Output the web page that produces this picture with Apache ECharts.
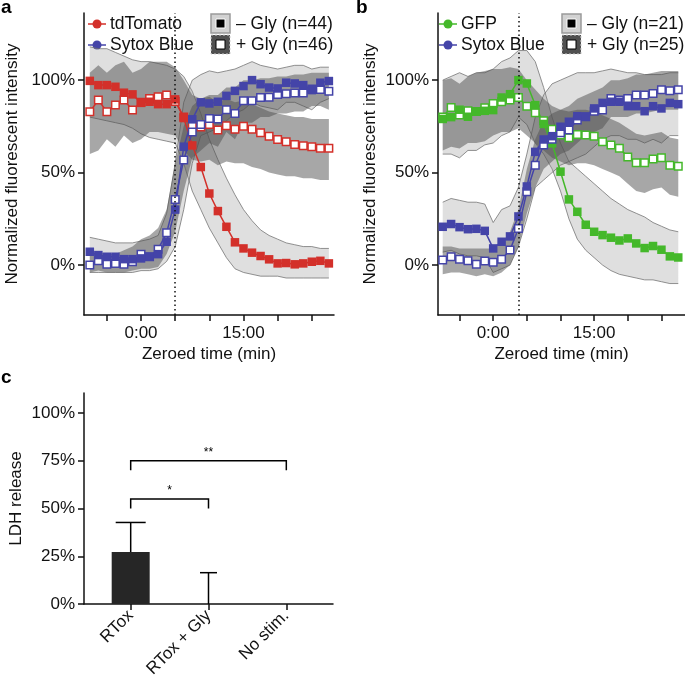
<!DOCTYPE html>
<html>
<head>
<meta charset="utf-8">
<script src="https://cdn.jsdelivr.net/npm/echarts@6.0.0/dist/echarts.min.js"></script>
<style>html,body{margin:0;padding:0;background:#fff}#chart{width:685px;height:694px}</style>
</head>
<body>
<div id="chart"></div>
<script>
// ---------------- DATA ----------------
const timeMin = [-7.5,-6.25,-5,-3.75,-2.5,-1.25,0,1.25,2.5,3.75,5,6.25,7.5,8.75,10,11.25,12.5,13.75,15,16.25,17.5,18.75,20,21.25,22.5,23.75,25,26.25,27.5];
const xTickMarks = [-5,0,5,10,15,20,25];
const xLabelValues = [0,15];
const xLabelTexts = ['0:00','15:00'];
const yTickValues = [0,50,100];
const stimTimeA = 5;
const stimTimeB = 3.75;

// Panel a
const aTdTomatoMinus = [99.6,97.3,97.3,96.4,93.2,92.3,87.7,88.3,87,87,89.6,79.5,64.7,53,38.7,29.2,20.7,12.3,9,6.7,4.9,3.1,0.9,1.1,0.4,0.9,1.8,2.3,0.9];
const aTdTomatoPlus  = [82.9,89.2,82.9,86.5,89.2,83.8,88,90.1,91,91.9,88.5,80,75.5,74.6,76,73,75.3,73.5,75.1,73.5,71.5,69.7,67.9,66.7,65.2,64.5,64,63.1,63.1];
const aSytoxMinus    = [7.2,5.4,4.5,4.5,3.2,3.2,3.6,4.5,5.9,12.6,30,64,78.8,88,87.4,88.3,91.5,94.2,96.8,100,97.8,96,95.5,98.6,98.2,97.3,94.6,98.6,99.5];
const aSytoxPlus     = [0,2.3,0.5,0.9,0.5,1.8,5.9,4.5,8.5,17.5,35.5,56.8,72,76,79.3,79,84,82,88.8,88.8,90.6,90.8,92.2,92.6,93,93.1,95.2,95,94];
const aTdTomatoMinusLo = [80,79,78,77,76,74,71,69,68,67,66,55,40,30,20,12,4,-2,-4,-5,-6,-6,-6,-7,-7,-7,-7,-7,-7];
const aTdTomatoMinusHi = [118,117,117,115,113,111,110,110,109,108,106,102,94,82,68,57,47,38,30,24,19,16,14,12,11,10,10,9,9];
const aTdTomatoPlusLo  = [60,62,68,64,70,66,68,72,72,71,70,62,57,56,57,54,56,55,55,53,52,50,49,48,48,47,47,46,46];
const aTdTomatoPlusHi  = [104,108,104,108,110,104,106,110,110,110,107,100,92,90,91,88,90,88,89,87,85,83,82,81,80,80,79,79,79];
const aSytoxMinusLo = [-4,-4,-4,-4,-4,-4,-3,-3,-2,2,10,30,55,70,72,74,78,82,84,88,86,85,84,88,88,86,84,88,90];
const aSytoxMinusHi = [15,14,13,12,12,12,13,14,16,28,55,88,100,103,105,104,105,106,108,110,108,107,106,107,108,108,106,107,107];
const aSytoxPlusLo  = [-4,-3,-4,-4,-4,-3,-2,-2,-1,6,18,40,58,62,66,64,72,68,77,77,80,80,82,82,83,83,86,86,84];
const aSytoxPlusHi  = [6,7,6,6,8,10,14,16,20,30,55,75,86,90,92,92,96,96,100,100,101,101,102,102,103,103,104,104,104];

// Panel b
const bGfpMinus   = [79,80,84,80.2,82.9,83.4,83.8,90.6,92.4,100,98.2,86.5,76.3,65.8,50.5,35.5,28.8,21.8,18,16.2,14.8,13.3,14.4,11.7,9.2,10.3,8.3,4.7,4.1];
const bGfpPlus    = [80,85.2,81.1,83.4,83,85,87.4,88.3,89.2,90.6,85.9,82.3,78,73.5,70.3,68.8,70.6,70.3,69.7,66.7,64.9,63.1,58.5,55.3,55.3,57.3,58,54,53.5];
const bSytoxMinus = [20.7,22.2,20.5,19.4,19.6,18.5,9,12.6,15.5,26.3,42.5,61.2,67.9,69.7,74.8,77.5,80.5,80.2,84.7,87.7,88.3,88.3,85.9,85.9,83.2,85.9,84.7,87.7,87];
const bSytoxPlus  = [2.7,4.5,3.1,2.3,0.4,2.2,1.5,3.1,8.1,19.8,39.6,54,64.9,68,71.5,73,78.4,80.2,83.2,83.8,90.1,89.2,90.1,91.9,91.9,92.8,94.8,94.2,94.8];
const bGfpMinusLo = [60,60,58,62,62,65,66,70,72,80,76,66,60,52,40,25,14,8,4,0,-3,-5,-6,-7,-8,-8,-9,-10,-10];
const bGfpMinusHi = [100,102,104,102,104,104,106,110,112,116,116,110,96,80,66,56,52,48,44,40,36,33,30,28,26,23,21,19,18];
const bGfpPlusLo  = [62,64,63,66,66,67,70,72,72,74,70,66,62,58,56,54,55,55,54,52,50,48,44,40,39,41,42,38,37];
const bGfpPlusHi  = [100,101,98,102,104,105,106,106,107,106,100,95,90,86,84,83,84,84,83,81,79,77,74,71,70,71,72,69,68];
const bSytoxMinusLo = [7,8,6,5,5,4,-4,-2,0,10,25,42,46,50,54,56,58,60,64,68,70,70,68,68,66,68,66,70,70];
const bSytoxMinusHi = [34,36,35,34,34,33,23,30,32,42,60,80,92,98,100,102,104,104,104,105,106,105,104,104,103,103,103,104,104];
const bSytoxPlusLo  = [-5,-4,-4,-5,-6,-5,-6,-4,0,10,28,42,52,56,60,62,66,70,72,74,80,80,80,82,82,83,84,84,84];
const bSytoxPlusHi  = [10,10,9,9,9,9,9,12,18,30,52,68,78,82,84,86,90,92,94,96,100,100,101,103,103,104,105,105,105];

// Panel c
const ldhCats = ['RTox','RTox + Gly','No stim.'];
const ldhMean = [27.2, 0, 0];
const ldhLow  = [12, 0, 0];
const ldhHigh = [42.7, 16.4, 0];
const ldhTicks = [0,25,50,75,100];
const sigPairs = [[1,3],[1,2]];
const sigLevels = [75, 55];
const sigTexts = ['**','*'];

// ---------------- STYLE ----------------
const FONT = '"Liberation Sans", Arial, Helvetica, sans-serif';
const RED = '#d3302a', BLUE = '#4444a8', GREEN = '#44b82a';
const LIGHT_FILL = 'rgba(150,150,150,0.30)', LIGHT_LINE = 'rgba(110,110,110,0.75)';
const DARK_FILL = 'rgba(80,80,80,0.50)';
const INK = '#111';

function pts(arr){ return timeMin.map((t,i)=>[t, arr[i]]); }

function band(g, lo, hi, fill, stroke){
  return {
    type:'custom', xAxisIndex:g, yAxisIndex:g, silent:true,
    data:[[timeMin[0], lo[0]]],
    renderItem:(params, api)=>{
      const up = timeMin.map((t,i)=>api.coord([t, hi[i]]));
      const dn = timeMin.map((t,i)=>api.coord([t, lo[i]]));
      const ch = [{type:'polygon', shape:{points: up.concat(dn.slice().reverse())}, style:{fill: fill}}];
      if (stroke){
        ch.push({type:'polyline', shape:{points:up}, style:{stroke:stroke, fill:'none', lineWidth:1}});
        ch.push({type:'polyline', shape:{points:dn}, style:{stroke:stroke, fill:'none', lineWidth:1}});
      }
      return {type:'group', children:ch};
    }
  };
}
function lineS(g, arr, color, open, mark){
  const s = {
    type:'line', xAxisIndex:g, yAxisIndex:g, data:pts(arr),
    symbol:'rect', symbolSize: open ? 7.5 : 8.5, showAllSymbol:true,
    lineStyle:{color:color, width:1.5},
    itemStyle: open ? {color:'#fff', borderColor:color, borderWidth:1.5} : {color:color, borderWidth:0}
  };
  if (mark !== undefined){
    s.markLine = {silent:true, symbol:'none', label:{show:false},
      lineStyle:{type:[1.5,3], color:'#111', width:1.5}, data:[{xAxis: mark}]};
  }
  return s;
}

const txt = {fontSize:17, color:INK, fontFamily:FONT};
function timeAxis(g, min, max){
  return {type:'value', gridIndex:g, min:min, max:max,
    name:'Zeroed time (min)', nameLocation:'middle', nameGap:31, nameTextStyle:txt,
    axisLine:{onZero:false, lineStyle:{color:INK, width:1.5}},
    axisTick:{customValues:xTickMarks, length:6, lineStyle:{color:INK, width:1.5}},
    axisLabel:Object.assign({customValues:xLabelValues, margin:10,
      formatter:v=>xLabelTexts[xLabelValues.indexOf(v)]}, txt),
    splitLine:{show:false}};
}
function pctAxis(g, min, max, ticks, name, gap){
  return {type:'value', gridIndex:g, min:min, max:max,
    name:name, nameLocation:'middle', nameGap:gap, nameTextStyle:txt,
    axisLine:{show:true, onZero:false, lineStyle:{color:INK, width:1.5}},
    axisTick:{show:true, customValues:ticks, length:6, lineStyle:{color:INK, width:1.5}},
    axisLabel:Object.assign({customValues:ticks, margin:9, formatter:v=>v+'%'}, txt),
    splitLine:{show:false}};
}

const LEG_FONT = '17.5px ' + FONT;
function legendBlock(x0, label1, color1, label2, color2, kx, n1, n2){
  const els = [];
  const rows = [[24, label1, color1],[45, label2, color2]];
  rows.forEach(r=>{
    els.push({type:'line', shape:{x1:x0, y1:r[0], x2:x0+18, y2:r[0]}, style:{stroke:r[2], lineWidth:1.5}});
    els.push({type:'circle', shape:{cx:x0+9, cy:r[0], r:4.5}, style:{fill:r[2]}});
    els.push({type:'text', style:{x:x0+22, y:r[0], text:r[1], font:LEG_FONT, fill:INK, verticalAlign:'middle'}});
  });
  els.push({type:'rect', shape:{x:kx, y:14, width:19, height:19}, style:{fill:'#d2d2d2', stroke:'#9a9a9a', lineWidth:1.5}});
  els.push({type:'rect', shape:{x:kx+5, y:19, width:9, height:9}, style:{fill:'#000', stroke:'#fff', lineWidth:1}});
  els.push({type:'rect', shape:{x:kx, y:35, width:19, height:19}, style:{fill:'#505050', stroke:'#cfcfcf', lineWidth:1, lineDash:[2,2]}});
  els.push({type:'rect', shape:{x:kx+5, y:40, width:9, height:9}, style:{fill:'#fff', stroke:'#000', lineWidth:1}});
  els.push({type:'text', style:{x:kx+25, y:24, text:'\u2013 Gly (n='+n1+')', font:LEG_FONT, fill:INK, verticalAlign:'middle'}});
  els.push({type:'text', style:{x:kx+25, y:45, text:'+ Gly (n='+n2+')', font:LEG_FONT, fill:INK, verticalAlign:'middle'}});
  return els;
}

const graphicEls = [
  {type:'text', style:{x:1, y:8, text:'a', font:'bold 19px '+FONT, fill:'#000', verticalAlign:'middle'}},
  {type:'text', style:{x:356, y:8, text:'b', font:'bold 19px '+FONT, fill:'#000', verticalAlign:'middle'}},
  {type:'text', style:{x:1, y:378, text:'c', font:'bold 19px '+FONT, fill:'#000', verticalAlign:'middle'}}
].concat(legendBlock(88,'tdTomato',RED,'Sytox Blue',BLUE,211,44,46))
 .concat(legendBlock(439,'GFP',GREEN,'Sytox Blue',BLUE,562,21,25));

const capPx = [30, 17, 0];

const option = {
  animation:false,
  backgroundColor:'#fff',
  grid:[
    {left:84, top:13, width:250, height:302, outerBoundsMode:'none'},
    {left:438, top:13, width:247, height:302, outerBoundsMode:'none'},
    {left:84, top:393, width:249, height:211, outerBoundsMode:'none'}
  ],
  xAxis:[
    timeAxis(0, -8.35, 28.25),
    timeAxis(1, -8.2, 28.5),
    {type:'value', gridIndex:2, min:0.4, max:3.6,
      axisLine:{onZero:false, lineStyle:{color:INK, width:1.5}},
      axisTick:{customValues:[1,2,3], length:6, lineStyle:{color:INK, width:1.5}},
      axisLabel:Object.assign({customValues:[1,2,3], rotate:45, margin:9,
        formatter:v=>ldhCats[v-1]}, txt),
      splitLine:{show:false}}
  ],
  yAxis:[
    pctAxis(0, -27, 136.3, yTickValues, 'Normalized fluorescent intensity', 63),
    pctAxis(1, -27, 136.3, yTickValues, 'Normalized fluorescent intensity', 59),
    pctAxis(2, 0, 110.5, ldhTicks, 'LDH release', 59)
  ],
  graphic:{elements:graphicEls},
  series:[
    band(0, aTdTomatoMinusLo, aTdTomatoMinusHi, LIGHT_FILL, LIGHT_LINE),
    band(0, aSytoxMinusLo, aSytoxMinusHi, LIGHT_FILL, LIGHT_LINE),
    band(0, aTdTomatoPlusLo, aTdTomatoPlusHi, DARK_FILL, null),
    band(0, aSytoxPlusLo, aSytoxPlusHi, DARK_FILL, null),
    lineS(0, aTdTomatoPlus, RED, true, stimTimeA),
    lineS(0, aTdTomatoMinus, RED, false),
    lineS(0, aSytoxPlus, BLUE, true),
    lineS(0, aSytoxMinus, BLUE, false),

    band(1, bGfpMinusLo, bGfpMinusHi, LIGHT_FILL, LIGHT_LINE),
    band(1, bSytoxMinusLo, bSytoxMinusHi, LIGHT_FILL, LIGHT_LINE),
    band(1, bGfpPlusLo, bGfpPlusHi, DARK_FILL, null),
    band(1, bSytoxPlusLo, bSytoxPlusHi, DARK_FILL, null),
    lineS(1, bGfpPlus, GREEN, true, stimTimeB),
    lineS(1, bGfpMinus, GREEN, false),
    lineS(1, bSytoxPlus, BLUE, true),
    lineS(1, bSytoxMinus, BLUE, false),

    {type:'bar', xAxisIndex:2, yAxisIndex:2, barWidth:38,
      data: ldhCats.map((c,i)=>[i+1, ldhMean[i]]), itemStyle:{color:'#262626'}},
    {type:'custom', xAxisIndex:2, yAxisIndex:2, silent:true,
      data: ldhCats.map((c,i)=>[i+1, ldhLow[i], ldhHigh[i]]),
      encode:{x:0, y:[1,2]},
      renderItem:(params, api)=>{
        const x = api.value(0), lo = api.value(1), hi = api.value(2);
        if (hi <= lo) return null;
        const a = api.coord([x, lo]), b = api.coord([x, hi]);
        const w = capPx[params.dataIndex]/2;
        const st = {stroke:'#000', lineWidth:1.5};
        const ch = [
          {type:'line', shape:{x1:a[0], y1:a[1], x2:b[0], y2:b[1]}, style:st},
          {type:'line', shape:{x1:b[0]-w, y1:b[1], x2:b[0]+w, y2:b[1]}, style:st}
        ];
        if (lo > 0) ch.push({type:'line', shape:{x1:a[0]-w, y1:a[1], x2:a[0]+w, y2:a[1]}, style:st});
        return {type:'group', children:ch};
      }},
    {type:'custom', xAxisIndex:2, yAxisIndex:2, silent:true,
      data: sigPairs.map((p,i)=>[p[0], p[1], sigLevels[i]]),
      encode:{x:[0,1], y:2},
      renderItem:(params, api)=>{
        const x1 = api.value(0), x2 = api.value(1), y = api.value(2);
        const p1 = api.coord([x1, y-5]), p2 = api.coord([x1, y]), p3 = api.coord([x2, y]), p4 = api.coord([x2, y-5]);
        return {type:'group', children:[
          {type:'polyline', shape:{points:[p1,p2,p3,p4]}, style:{stroke:'#000', fill:'none', lineWidth:1.5}},
          {type:'text', x:(p2[0]+p3[0])/2, y:p2[1]-8,
            style:{text:sigTexts[params.dataIndex], font:'12px '+FONT, fill:'#000', align:'center', verticalAlign:'middle'}}
        ]};
      }}
  ]
};

const chart = echarts.init(document.getElementById('chart'), null, {renderer:'canvas'});
chart.setOption(option);
</script>
</body>
</html>
